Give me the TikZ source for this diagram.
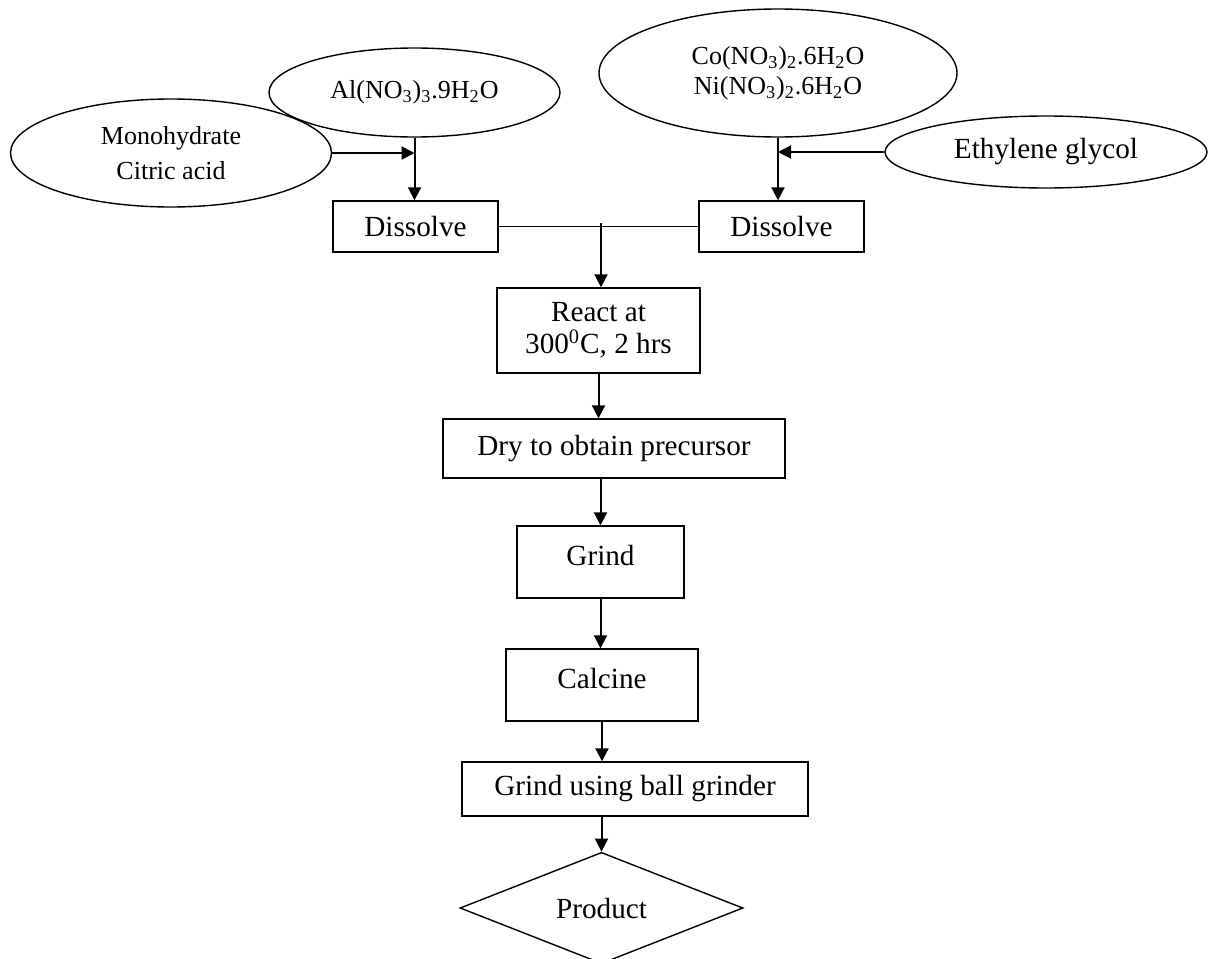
\documentclass[tikz,border=0pt]{standalone}
\usepackage{fontspec}
\setmainfont{Liberation Serif}
\usetikzlibrary{shapes,arrows.meta}

\begin{document}
\begin{tikzpicture}[x=0.5pt, y=-0.5pt, line width=0.7pt]
\tikzstyle{blob}=[ellipse,draw=black,inner sep=0pt,align=center,font=\fontsize{13}{17.5}\selectfont]
\tikzstyle{stepbox}=[rectangle,draw=black,inner sep=0pt,align=center,font=\fontsize{14.6}{16}\selectfont]
\tikzstyle{flow}=[-{Triangle[length=6.5pt,width=6.5pt]},line width=1pt]
\useasboundingbox (0,0) rectangle (1208,958);

% raw materials
\node[blob, minimum width=160.5pt, minimum height=54pt] (mono) at (171,153) {Monohydrate\\Citric acid};
\node[blob, minimum width=145.5pt, minimum height=44.5pt] (al) at (414.5,92.5) {Al(NO\textsubscript{3})\textsubscript{3}.9H\textsubscript{2}O};
\node[blob, minimum width=179pt, minimum height=64pt, font=\fontsize{13}{15}\selectfont] (co) at (778,73) {Co(NO\textsubscript{3})\textsubscript{2}.6H\textsubscript{2}O\\Ni(NO\textsubscript{3})\textsubscript{2}.6H\textsubscript{2}O};
\node[blob, minimum width=161pt, minimum height=36pt, font=\fontsize{14.6}{16}\selectfont] (eth) at (1046,152) {Ethylene glycol};

% process steps
\node[stepbox, minimum width=82.5pt, minimum height=25.5pt] (dissL) at (415.5,226.5) {Dissolve};
\node[stepbox, minimum width=82.5pt, minimum height=25.5pt] (dissR) at (781.5,226.5) {Dissolve};
\node[stepbox, minimum width=101.5pt, minimum height=42.5pt] (react) at (598.5,330.5) {React at\\300\textsuperscript{0}C, 2 hrs};
\node[stepbox, minimum width=171pt, minimum height=29.5pt] (dry) at (614,448.5) {Dry to obtain precursor};
\node[stepbox, minimum width=83.5pt, minimum height=36pt, text height=10pt, text depth=7pt] (grind) at (600.5,562) {Grind};
\node[stepbox, minimum width=96pt, minimum height=36pt, text height=10pt, text depth=7pt] (calc) at (602,685) {Calcine};
\node[stepbox, minimum width=173pt, minimum height=27pt] (ball) at (635,789) {Grind using ball grinder};
\node[diamond, draw=black, inner sep=0pt, minimum width=141.5pt, minimum height=51pt, font=\fontsize{14.6}{16}\selectfont] (prod) at (601.5,908) {Product};

\coordinate (monoin) at (al.south |- mono.east);
\coordinate (ethin)  at (co.south |- eth.west);
\coordinate (join)   at (601,223);

\draw[line width=0.6pt] (dissL.east) -- (dissR.west);
\path[flow]
(mono.east)   edge (monoin)
(al.south)    edge (al.south |- dissL.north)
(eth.west)    edge (ethin)
(co.south)    edge (co.south |- dissR.north)
(join)        edge (join |- react.north)
(react.south) edge (react.south |- dry.north)
(grind.north |- dry.south) edge (grind.north)
(grind.south) edge (grind.south |- calc.north)
(calc.south)  edge (calc.south |- ball.north)
(prod.north |- ball.south) edge (prod.north);
\end{tikzpicture}
\end{document}
